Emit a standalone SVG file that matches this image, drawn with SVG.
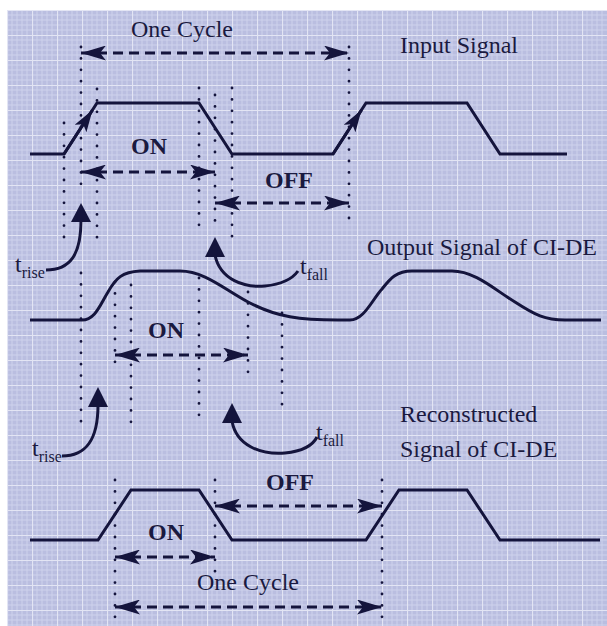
<svg xmlns="http://www.w3.org/2000/svg" width="607" height="626" viewBox="0 0 607 626">
<defs>
<pattern id="grid" x="7" y="10" width="25" height="25" patternUnits="userSpaceOnUse">
<rect width="25" height="25" fill="#babee0"/>
<path d="M5,0V25M10,0V25M15,0V25M20,0V25M0,5H25M0,10H25M0,15H25M0,20H25" stroke="#cfd2ec" stroke-width="1" fill="none"/>
<path d="M0.5,0V25M0,0.5H25" stroke="#e3e5f4" stroke-width="1.2" fill="none"/>
</pattern>
<marker id="ah" viewBox="0 0 25 15" refX="25" refY="7.5" markerWidth="25" markerHeight="15" markerUnits="userSpaceOnUse" orient="auto-start-reverse">
<path d="M0,0 L25,7.5 L0,15 L6,7.5 Z" fill="#14143c"/>
</marker>
<marker id="eh" viewBox="0 0 22 14" refX="22" refY="7" markerWidth="22" markerHeight="14" markerUnits="userSpaceOnUse" orient="auto">
<path d="M0,0 L22,7 L0,14 L5,7 Z" fill="#14143c"/>
</marker>
</defs>
<style>
.sig{fill:none;stroke:#14143c;stroke-width:3;stroke-linejoin:miter}
.dot{fill:none;stroke:#14143c;stroke-width:2.8;stroke-linecap:round;stroke-dasharray:0 11.4}
.dash{fill:none;stroke:#14143c;stroke-width:3;stroke-dasharray:10 6}
.crv{fill:none;stroke:#14143c;stroke-width:3}
.tri{fill:#14143c}
.lbl{font-family:"Liberation Serif","Times New Roman",serif;font-size:24px;fill:#1a1a40}
.b{font-weight:bold}
.sub{font-size:16px}
</style>
<rect width="607" height="626" fill="#ffffff"/>
<rect x="7" y="10" width="600" height="616" fill="url(#grid)"/>

<g id="input-signal">
<path class="sig" d="M30,154 L64,154 L97,103 L199,103 L232,154 L333,154 L366,103 L467,103 L500,154 L567,154"/>
<text class="lbl" x="400" y="53">Input Signal</text>
</g>
<g id="output-signal">
<path class="sig" d="M30,320 L82,320 C95,320 100,305 108,292 C116,278 122,272 140,271 L180,271 C205,271 225,290 250,303 C277,317 300,320 338,320 L350,320 C364,320 372,300 382,289 C390,279 396,271 412,271 L452,271 C475,271 495,290 515,302 C535,315 545,320 565,320 L601,320"/>
<text class="lbl" x="367" y="255">Output Signal of CI-DE</text>
</g>
<g id="reconstructed-signal">
<path class="sig" d="M30,540 L98,540 L131,490 L199,490 L232,540 L366,540 L399,490 L467,490 L500,540 L600,540"/>
<text class="lbl" x="400" y="422">Reconstructed</text>
<text class="lbl" x="400" y="457">Signal of CI-DE</text>
</g>

<g id="guides">
<path class="dot" d="M64,123V238 M81,47V190 M97,89V238 M199,88V225 M215,95V222 M232,88V238 M349,47V222"/>
<path class="dot" d="M81,273V422 M115,282V372 M131,285V422 M199,278V418 M248,292V372 M282,313V405"/>
<path class="dot" d="M115,480V625 M215,480V572 M382,480V622"/>
</g>

<g id="labels">
<text class="lbl" x="131" y="37">One Cycle</text>
<text class="lbl b" x="131" y="154">ON</text>
<text class="lbl b" x="265" y="188">OFF</text>
<text class="lbl b" x="148" y="338">ON</text>
<text class="lbl b" x="266" y="490">OFF</text>
<text class="lbl b" x="148" y="540">ON</text>
<text class="lbl" x="197" y="590">One Cycle</text>
<text class="lbl" x="15" y="272">t<tspan class="sub" dy="6">rise</tspan></text>
<text class="lbl" x="300" y="274">t<tspan class="sub" dy="6">fall</tspan></text>
<text class="lbl" x="32" y="456">t<tspan class="sub" dy="6">rise</tspan></text>
<text class="lbl" x="316" y="440">t<tspan class="sub" dy="6">fall</tspan></text>
</g>

<g id="connectors">
<path class="dash" d="M81,53H349" marker-start="url(#ah)" marker-end="url(#ah)"/>
<path class="dash" d="M81,172H215" marker-start="url(#ah)" marker-end="url(#ah)"/>
<path class="dash" d="M215,203H349" marker-start="url(#ah)" marker-end="url(#ah)"/>
<path class="dash" d="M115,355H248" marker-start="url(#ah)" marker-end="url(#ah)"/>
<path class="dash" d="M215,506H382" marker-start="url(#ah)" marker-end="url(#ah)"/>
<path class="dash" d="M115,557H215" marker-start="url(#ah)" marker-end="url(#ah)"/>
<path class="dash" d="M115,607H382" marker-start="url(#ah)" marker-end="url(#ah)"/>
<path class="sig" d="M64,154 L92.5,110" marker-end="url(#eh)"/>
<path class="sig" d="M333,154 L361.5,110" marker-end="url(#eh)"/>
<path class="crv" d="M81,220 C81,255 70,270 46,270"/>
<path class="tri" d="M71,222 L81,203 L91,222 Z"/>
<path class="crv" d="M215,255 C220,280 245,288 265,286 C285,284 293,278 298,271"/>
<path class="tri" d="M205,257 L215,237 L225,257 Z"/>
<path class="crv" d="M98,405 C98,440 86,456 62,456"/>
<path class="tri" d="M88,407 L98,387 L108,407 Z"/>
<path class="crv" d="M232,421 C236,445 260,455 285,453 C305,451 313,445 317,437"/>
<path class="tri" d="M222,423 L232,403 L242,423 Z"/>
</g>
</svg>
